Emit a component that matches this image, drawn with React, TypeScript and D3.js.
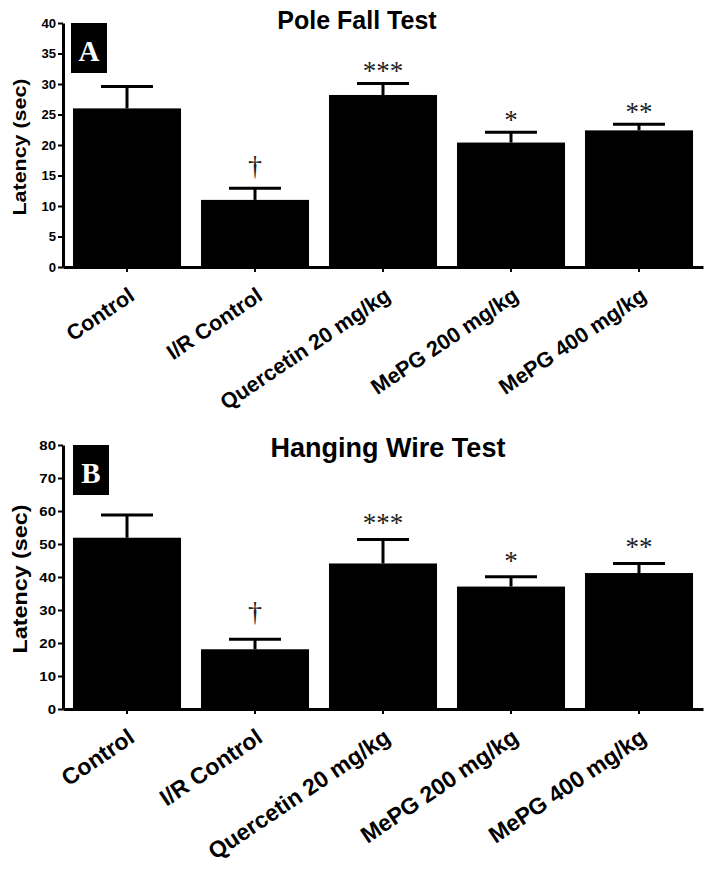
import * as d3 from "d3"
import { useEffect, useRef } from "react"

// groups along the x axis
const categories = [
  "Control",
  "I/R Control",
  "Quercetin 20 mg/kg",
  "MePG 200 mg/kg",
  "MePG 400 mg/kg",
]

// Pole fall test (A)
const poleMeans = [26.0, 11.0, 28.2, 20.4, 22.4]
const poleErrors = [3.6, 1.9, 1.9, 1.7, 1.0]
const poleTicks = [0, 5, 10, 15, 20, 25, 30, 35, 40]

// Hanging wire test (B)
const wireMeans = [51.9, 18.1, 44.1, 37.1, 41.2]
const wireErrors = [6.9, 3.0, 7.3, 3.0, 2.9]
const wireTicks = [0, 10, 20, 30, 40, 50, 60, 70, 80]

// significance marks above the bars
const significance = ["", "†", "***", "*", "**"]

interface PanelOpts {
  letter: string
  title: string
  titleX: number
  titleY: number
  titleSize: number
  means: number[]
  errors: number[]
  ticks: number[]
  top: number
  bottom: number
  labelSize: number
  yLabelX: number
  yLabelLen: number
  yLabelSize: number
  tickScale: number
  starOffset: number
  daggerOffset: number
  boxX: number
}

const left = 63
const right = 703

function drawPanel(svg: d3.Selection<SVGSVGElement, unknown, null, undefined>, o: PanelOpts) {
  const g = svg.append("g")

  const x = d3
    .scaleBand()
    .domain(categories)
    .range([left, right])
    .paddingInner(0.156)
    .paddingOuter(0.078)

  const y = d3
    .scaleLinear()
    .domain([0, o.ticks[o.ticks.length - 1]])
    .range([o.bottom, o.top])

  const data = categories.map((c, i) => ({
    cat: c,
    mean: o.means[i],
    err: o.errors[i],
    sig: significance[i],
  }))

  // Bars
  g.selectAll(".bar")
    .data(data)
    .enter()
    .append("rect")
    .attr("class", "bar")
    .attr("x", (d) => x(d.cat)!)
    .attr("y", (d) => y(d.mean))
    .attr("width", x.bandwidth())
    .attr("height", (d) => y(0) - y(d.mean))
    .attr("fill", "#000")

  // Error bars (upper only)
  const capW = 52
  g.selectAll(".err")
    .data(data)
    .enter()
    .append("line")
    .attr("x1", (d) => x(d.cat)! + x.bandwidth() / 2)
    .attr("x2", (d) => x(d.cat)! + x.bandwidth() / 2)
    .attr("y1", (d) => y(d.mean))
    .attr("y2", (d) => y(d.mean + d.err))
    .attr("stroke", "#000")
    .attr("stroke-width", 3)

  g.selectAll(".cap")
    .data(data)
    .enter()
    .append("line")
    .attr("x1", (d) => x(d.cat)! + x.bandwidth() / 2 - capW / 2)
    .attr("x2", (d) => x(d.cat)! + x.bandwidth() / 2 + capW / 2)
    .attr("y1", (d) => y(d.mean + d.err))
    .attr("y2", (d) => y(d.mean + d.err))
    .attr("stroke", "#000")
    .attr("stroke-width", 3)

  // Significance marks
  g.selectAll(".sig")
    .data(data.filter((d) => d.sig))
    .enter()
    .append("text")
    .attr("x", (d) => x(d.cat)! + x.bandwidth() / 2)
    .attr("y", (d) =>
      d.sig === "†"
        ? y(d.mean + d.err) - o.daggerOffset + 8
        : y(d.mean + d.err) - o.starOffset + 12,
    )
    .attr("text-anchor", "middle")
    .style("font", (d) =>
      d.sig === "†" ? "28px 'Liberation Serif', serif" : "27px 'Liberation Serif', serif",
    )
    .attr("fill", "#222")
    .text((d) => d.sig)

  // Y axis
  const yAxis = g
    .append("g")
    .attr("transform", `translate(${left},0)`)
    .call(d3.axisLeft(y).tickValues(o.ticks).tickSize(5).tickPadding(3).tickSizeOuter(0))
  yAxis.select(".domain").attr("stroke", "#000").attr("stroke-width", 3)
  yAxis.selectAll(".tick line").attr("stroke", "#000").attr("stroke-width", 2)
  yAxis
    .selectAll(".tick text")
    .attr("x", -7 / o.tickScale)
    .attr("transform", `scale(${o.tickScale},1)`)
    .attr("fill", "#000")
    .style("font", "bold 12.5px 'Liberation Sans', Arial, sans-serif")

  // X axis
  const xAxis = g
    .append("g")
    .attr("transform", `translate(0,${o.bottom})`)
    .call(d3.axisBottom(x).tickSize(5).tickSizeOuter(0))
  xAxis.select(".domain").attr("stroke", "#000").attr("stroke-width", 3)
  xAxis.selectAll(".tick line").attr("stroke", "#000").attr("stroke-width", 2)
  xAxis.selectAll(".tick text").remove()

  g.selectAll(".xlabel")
    .data(categories)
    .enter()
    .append("text")
    .attr(
      "transform",
      (c) =>
        `translate(${x(c)! + x.bandwidth() / 2 + 9},${o.bottom + 32}) rotate(-34)`,
    )
    .attr("text-anchor", "end")
    .style("font", `bold ${o.labelSize}px 'Liberation Sans', Arial, sans-serif`)
    .attr("fill", "#000")
    .text((c) => c)

  // Y label
  g.append("text")
    .attr("transform", `translate(${o.yLabelX},${(o.top + o.bottom) / 2 + 2}) rotate(-90)`)
    .attr("text-anchor", "middle")
    .attr("dy", "0.35em")
    .attr("textLength", o.yLabelLen)
    .attr("lengthAdjust", "spacingAndGlyphs")
    .style("font", `bold ${o.yLabelSize}px 'Liberation Sans', Arial, sans-serif`)
    .attr("fill", "#000")
    .text("Latency (sec)")

  // Title
  g.append("text")
    .attr("x", o.titleX)
    .attr("y", o.titleY)
    .attr("text-anchor", "middle")
    .style("font", `bold ${o.titleSize}px 'Liberation Sans', Arial, sans-serif`)
    .attr("fill", "#000")
    .text(o.title)

  // Panel letter box
  g.append("rect")
    .attr("x", o.boxX)
    .attr("y", o.top)
    .attr("width", 36)
    .attr("height", 50)
    .attr("fill", "#000")
  g.append("text")
    .attr("x", o.boxX + 18)
    .attr("y", o.top + 38)
    .attr("text-anchor", "middle")
    .style("font", "bold 29px 'Liberation Serif', serif")
    .attr("fill", "#fff")
    .text(o.letter)
}

export default function App() {
  const svgRef = useRef<SVGSVGElement | null>(null)

  useEffect(() => {
    if (!svgRef.current) return
    const svg = d3.select(svgRef.current)
    svg.selectAll("*").remove()

    drawPanel(svg, {
      letter: "A",
      title: "Pole Fall Test",
      titleX: 357,
      titleY: 29,
      titleSize: 25,
      means: poleMeans,
      errors: poleErrors,
      ticks: poleTicks,
      top: 23,
      bottom: 267,
      labelSize: 21.5,
      yLabelX: 19,
      yLabelLen: 137,
      yLabelSize: 19,
      tickScale: 1.05,
      starOffset: 15,
      daggerOffset: 21,
      boxX: 71,
    })

    drawPanel(svg, {
      letter: "B",
      title: "Hanging Wire Test",
      titleX: 388,
      titleY: 457,
      titleSize: 27,
      means: wireMeans,
      errors: wireErrors,
      ticks: wireTicks,
      top: 445,
      bottom: 709,
      labelSize: 23,
      yLabelX: 20,
      yLabelLen: 149,
      yLabelSize: 20,
      tickScale: 1.2,
      starOffset: 19,
      daggerOffset: 26,
      boxX: 73,
    })
  }, [])

  return (
    <svg
      ref={svgRef}
      width={712}
      height={872}
      style={{ position: "absolute", left: 0, top: 0, background: "#fff" }}
    />
  )
}
